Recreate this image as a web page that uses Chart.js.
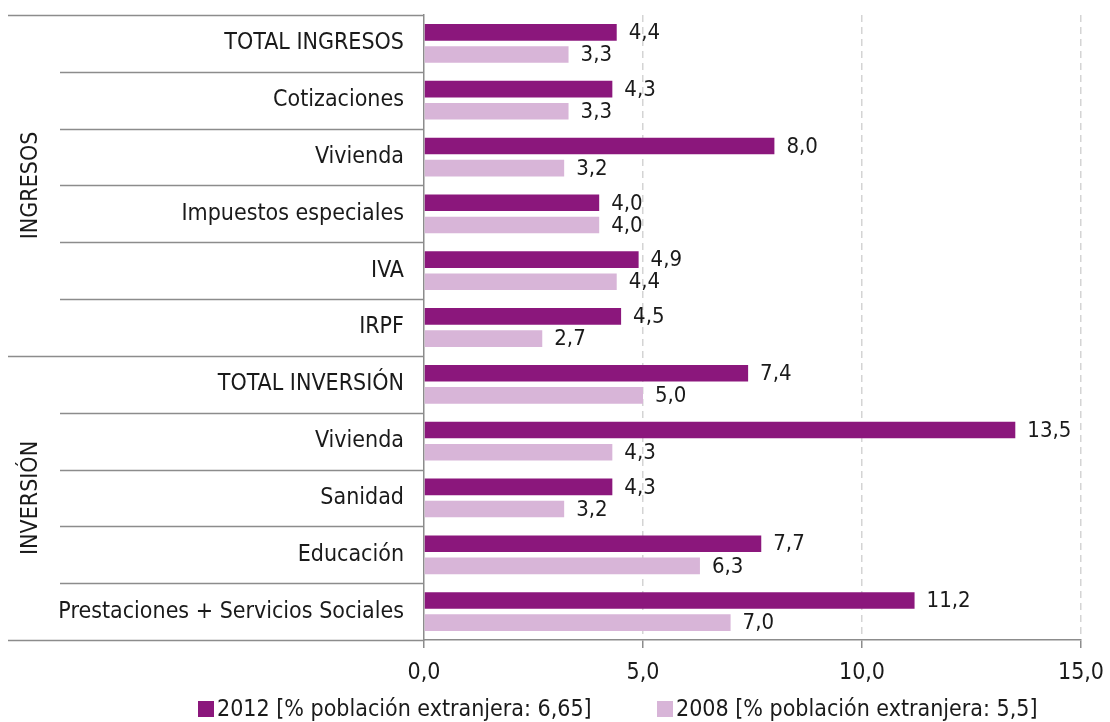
<!DOCTYPE html>
<html>
<head>
<meta charset="utf-8">
<script src="https://cdn.jsdelivr.net/npm/chart.js@4"></script>
<style>
  html, body { margin: 0; padding: 0; background: #fff; }
  #wrap { width: 1110px; height: 722px; }
</style>
</head>
<body>
<div id="wrap"><canvas id="chart" width="1110" height="722"></canvas></div>
<script>
// Datos
const categories = ['TOTAL INGRESOS', 'Cotizaciones', 'Vivienda', 'Impuestos especiales', 'IVA', 'IRPF',
    'TOTAL INVERSIÓN', 'Vivienda', 'Sanidad', 'Educación', 'Prestaciones + Servicios Sociales'];
const values2012 = [4.4, 4.3, 8.0, 4.0, 4.9, 4.5, 7.4, 13.5, 4.3, 7.7, 11.2];
const values2008 = [3.3, 3.3, 3.2, 4.0, 4.4, 2.7, 5.0, 4.3, 3.2, 6.3, 7.0];
const seriesLabels = ['2012 [% población extranjera: 6,65]', '2008 [% población extranjera: 5,5]'];
const groups = [
    { label: 'INGRESOS', from: 0, to: 5 },
    { label: 'INVERSIÓN', from: 6, to: 10 }
];
const xTicks = [0, 5, 10, 15];

const FONT = "'DejaVu Sans Condensed', 'Liberation Sans', sans-serif";
const LINE = '#8c8c8c';
const TEXT = '#1a1a1a';
const COLORS = ['#8b177c', '#d8b5d8'];

function fmt(v) {
    return v.toFixed(1).replace('.', ',');
}

// Etiquetas de valor al final de cada barra
const valueLabels = {
    id: 'valueLabels',
    afterDatasetsDraw(chart) {
        const ctx = chart.ctx;
        ctx.save();
        ctx.font = '22px ' + FONT;
        ctx.fillStyle = TEXT;
        ctx.textBaseline = 'middle';
        ctx.textAlign = 'left';
        chart.data.datasets.forEach((ds, di) => {
            chart.getDatasetMeta(di).data.forEach((bar, i) => {
                ctx.fillText(fmt(ds.data[i]), bar.x + 12, bar.y + 1);
            });
        });
        ctx.restore();
    }
};

// Separadores, títulos de grupo y leyenda
const groupLines = {
    id: 'groupLines',
    afterDraw(chart) {
        const ctx = chart.ctx;
        const area = chart.chartArea;
        const h = (area.bottom - area.top) / categories.length;
        const groupStarts = groups.map(g => g.from);
        ctx.save();
        ctx.strokeStyle = LINE;
        ctx.lineWidth = 1.5;
        for (let i = 0; i <= categories.length; i++) {
            const y = Math.round(area.top + i * h) + 0.5;
            const full = i === categories.length || groupStarts.includes(i);
            ctx.beginPath();
            ctx.moveTo(full ? 8 : 60, y);
            ctx.lineTo(area.left, y);
            ctx.stroke();
        }
        ctx.font = '23px ' + FONT;
        ctx.fillStyle = TEXT;
        ctx.textAlign = 'center';
        ctx.textBaseline = 'middle';
        groups.forEach(g => {
            const y0 = area.top + g.from * h;
            const y1 = area.top + (g.to + 1) * h;
            ctx.save();
            ctx.translate(31, (y0 + y1) / 2);
            ctx.rotate(-Math.PI / 2);
            ctx.fillText(g.label, 0, 0);
            ctx.restore();
        });

        // leyenda
        ctx.font = '23px ' + FONT;
        ctx.textAlign = 'left';
        const legendX = [198, 657];
        const legendY = 709;
        seriesLabels.forEach((txt, i) => {
            ctx.fillStyle = COLORS[i];
            ctx.fillRect(legendX[i], legendY - 8, 16, 16);
            ctx.fillStyle = TEXT;
            ctx.fillText(txt, legendX[i] + 19, legendY + 1);
        });
        ctx.restore();
    }
};

Chart.defaults.font.family = FONT;
Chart.defaults.color = TEXT;

new Chart(document.getElementById('chart'), {
    type: 'bar',
    data: {
        labels: categories,
        datasets: [{
            label: seriesLabels[0],
            data: values2012,
            backgroundColor: COLORS[0],
            categoryPercentage: 0.78,
            barPercentage: 0.75
        }, {
            label: seriesLabels[1],
            data: values2008,
            backgroundColor: COLORS[1],
            categoryPercentage: 0.78,
            barPercentage: 0.75
        }]
    },
    options: {
        indexAxis: 'y',
        responsive: false,
        animation: false,
        layout: { padding: { top: 15, right: 29, left: 0, bottom: 34 } },
        scales: {
            y: {
                grid: { display: false, drawTicks: false },
                border: { display: true, color: LINE, width: 1.5 },
                ticks: {
                    font: { size: 23 },
                    color: TEXT,
                    padding: 20
                },
                afterFit(scale) {
                    scale.width = 424;
                    scale.paddingTop = 0;
                    scale.paddingBottom = 0;
                }
            },
            x: {
                min: 0,
                max: 15,
                afterBuildTicks(scale) {
                    scale.ticks = xTicks.map(v => ({ value: v }));
                },
                grid: {
                    color: ctx => ctx.index === 0 ? 'rgba(0,0,0,0)' : '#d4d4d4',
                    lineWidth: 1.5,
                    tickColor: LINE,
                    tickLength: 8,
                    tickBorderDash: []
                },
                border: { display: true, color: LINE, width: 1.5, dash: [7, 5] },
                ticks: {
                    font: { size: 23 },
                    color: TEXT,
                    padding: 11,
                    callback: v => fmt(v)
                },
                afterFit(scale) {
                    scale.height = 48;
                    scale.paddingLeft = 0;
                    scale.paddingRight = 0;
                }
            }
        },
        plugins: {
            legend: { display: false },
            tooltip: { enabled: false }
        }
    },
    plugins: [valueLabels, groupLines]
});
</script>
</body>
</html>
